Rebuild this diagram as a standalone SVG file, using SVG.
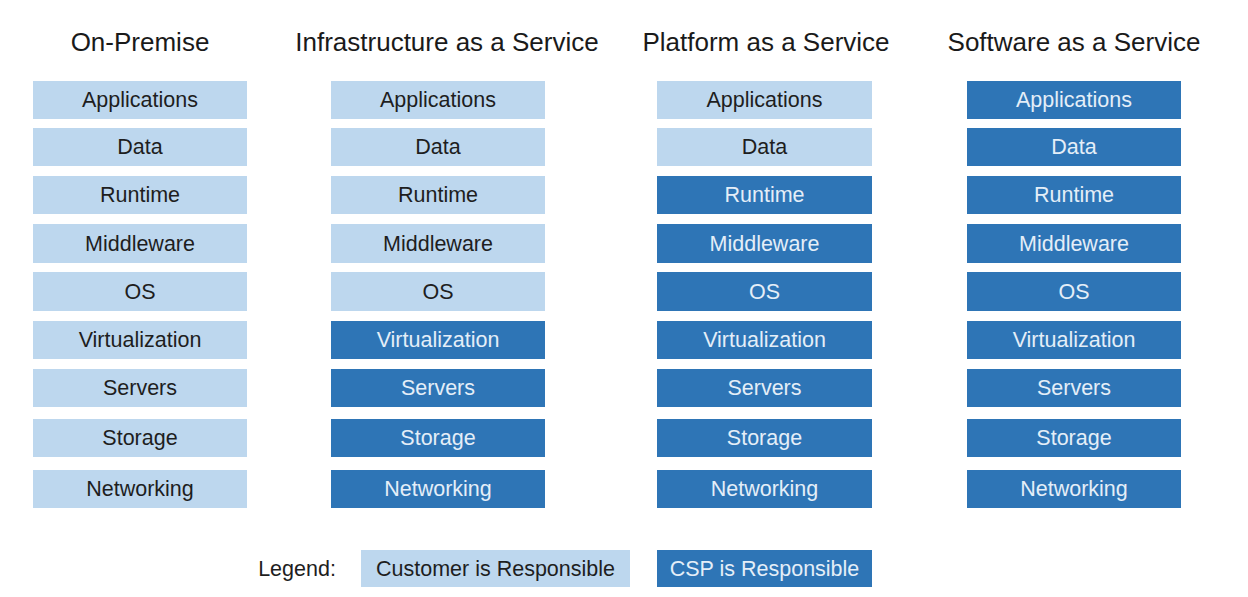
<svg xmlns="http://www.w3.org/2000/svg" width="1248" height="597" viewBox="0 0 1248 597">
<style>
.t{font-family:"Liberation Sans",Arial,sans-serif;font-size:26px;fill:#1a1a1a;text-anchor:middle}
.l{font-family:"Liberation Sans",Arial,sans-serif;font-size:21.5px;text-anchor:middle;dominant-baseline:central}
.c rect{fill:#bdd7ee}
.c text{fill:#1e1e1e}
.p rect{fill:#2e75b6}
.p text{fill:#e4eef8}
</style>
<rect width="1248" height="597" fill="#ffffff"/>
<g id="titles">
<text class="t" x="140" y="51">On-Premise</text>
<text class="t" x="447" y="51">Infrastructure as a Service</text>
<text class="t" x="766" y="51">Platform as a Service</text>
<text class="t" x="1074" y="51">Software as a Service</text>
</g>
<g id="col-onprem">
<g id="op-apps" class="c"><rect x="33" y="81" width="214" height="38"/><text class="l" x="140" y="100">Applications</text></g>
<g id="op-data" class="c"><rect x="33" y="128" width="214" height="38"/><text class="l" x="140" y="147">Data</text></g>
<g id="op-runtime" class="c"><rect x="33" y="176" width="214" height="38"/><text class="l" x="140" y="195">Runtime</text></g>
<g id="op-mid" class="c"><rect x="33" y="224" width="214" height="39"/><text class="l" x="140" y="243.5">Middleware</text></g>
<g id="op-os" class="c"><rect x="33" y="272" width="214" height="39"/><text class="l" x="140" y="291.5">OS</text></g>
<g id="op-virt" class="c"><rect x="33" y="321" width="214" height="38"/><text class="l" x="140" y="340">Virtualization</text></g>
<g id="op-serv" class="c"><rect x="33" y="369" width="214" height="38"/><text class="l" x="140" y="388">Servers</text></g>
<g id="op-stor" class="c"><rect x="33" y="419" width="214" height="38"/><text class="l" x="140" y="438">Storage</text></g>
<g id="op-net" class="c"><rect x="33" y="470" width="214" height="38"/><text class="l" x="140" y="489">Networking</text></g>
</g>
<g id="col-iaas">
<g id="ia-apps" class="c"><rect x="331" y="81" width="214" height="38"/><text class="l" x="438" y="100">Applications</text></g>
<g id="ia-data" class="c"><rect x="331" y="128" width="214" height="38"/><text class="l" x="438" y="147">Data</text></g>
<g id="ia-runtime" class="c"><rect x="331" y="176" width="214" height="38"/><text class="l" x="438" y="195">Runtime</text></g>
<g id="ia-mid" class="c"><rect x="331" y="224" width="214" height="39"/><text class="l" x="438" y="243.5">Middleware</text></g>
<g id="ia-os" class="c"><rect x="331" y="272" width="214" height="39"/><text class="l" x="438" y="291.5">OS</text></g>
<g id="ia-virt" class="p"><rect x="331" y="321" width="214" height="38"/><text class="l" x="438" y="340">Virtualization</text></g>
<g id="ia-serv" class="p"><rect x="331" y="369" width="214" height="38"/><text class="l" x="438" y="388">Servers</text></g>
<g id="ia-stor" class="p"><rect x="331" y="419" width="214" height="38"/><text class="l" x="438" y="438">Storage</text></g>
<g id="ia-net" class="p"><rect x="331" y="470" width="214" height="38"/><text class="l" x="438" y="489">Networking</text></g>
</g>
<g id="col-paas">
<g id="pa-apps" class="c"><rect x="657" y="81" width="215" height="38"/><text class="l" x="764.5" y="100">Applications</text></g>
<g id="pa-data" class="c"><rect x="657" y="128" width="215" height="38"/><text class="l" x="764.5" y="147">Data</text></g>
<g id="pa-runtime" class="p"><rect x="657" y="176" width="215" height="38"/><text class="l" x="764.5" y="195">Runtime</text></g>
<g id="pa-mid" class="p"><rect x="657" y="224" width="215" height="39"/><text class="l" x="764.5" y="243.5">Middleware</text></g>
<g id="pa-os" class="p"><rect x="657" y="272" width="215" height="39"/><text class="l" x="764.5" y="291.5">OS</text></g>
<g id="pa-virt" class="p"><rect x="657" y="321" width="215" height="38"/><text class="l" x="764.5" y="340">Virtualization</text></g>
<g id="pa-serv" class="p"><rect x="657" y="369" width="215" height="38"/><text class="l" x="764.5" y="388">Servers</text></g>
<g id="pa-stor" class="p"><rect x="657" y="419" width="215" height="38"/><text class="l" x="764.5" y="438">Storage</text></g>
<g id="pa-net" class="p"><rect x="657" y="470" width="215" height="38"/><text class="l" x="764.5" y="489">Networking</text></g>
</g>
<g id="col-saas">
<g id="sa-apps" class="p"><rect x="967" y="81" width="214" height="38"/><text class="l" x="1074" y="100">Applications</text></g>
<g id="sa-data" class="p"><rect x="967" y="128" width="214" height="38"/><text class="l" x="1074" y="147">Data</text></g>
<g id="sa-runtime" class="p"><rect x="967" y="176" width="214" height="38"/><text class="l" x="1074" y="195">Runtime</text></g>
<g id="sa-mid" class="p"><rect x="967" y="224" width="214" height="39"/><text class="l" x="1074" y="243.5">Middleware</text></g>
<g id="sa-os" class="p"><rect x="967" y="272" width="214" height="39"/><text class="l" x="1074" y="291.5">OS</text></g>
<g id="sa-virt" class="p"><rect x="967" y="321" width="214" height="38"/><text class="l" x="1074" y="340">Virtualization</text></g>
<g id="sa-serv" class="p"><rect x="967" y="369" width="214" height="38"/><text class="l" x="1074" y="388">Servers</text></g>
<g id="sa-stor" class="p"><rect x="967" y="419" width="214" height="38"/><text class="l" x="1074" y="438">Storage</text></g>
<g id="sa-net" class="p"><rect x="967" y="470" width="214" height="38"/><text class="l" x="1074" y="489">Networking</text></g>
</g>
<g id="legend">
<text class="l" x="297" y="569" style="fill:#1e1e1e">Legend:</text>
<g id="lg-customer" class="c"><rect x="361" y="550" width="269" height="37"/><text class="l" x="495.5" y="568.5">Customer is Responsible</text></g>
<g id="lg-csp" class="p"><rect x="657" y="550" width="215" height="37"/><text class="l" x="764.5" y="568.5">CSP is Responsible</text></g>
</g>
<g id="connectors"></g>
</svg>
